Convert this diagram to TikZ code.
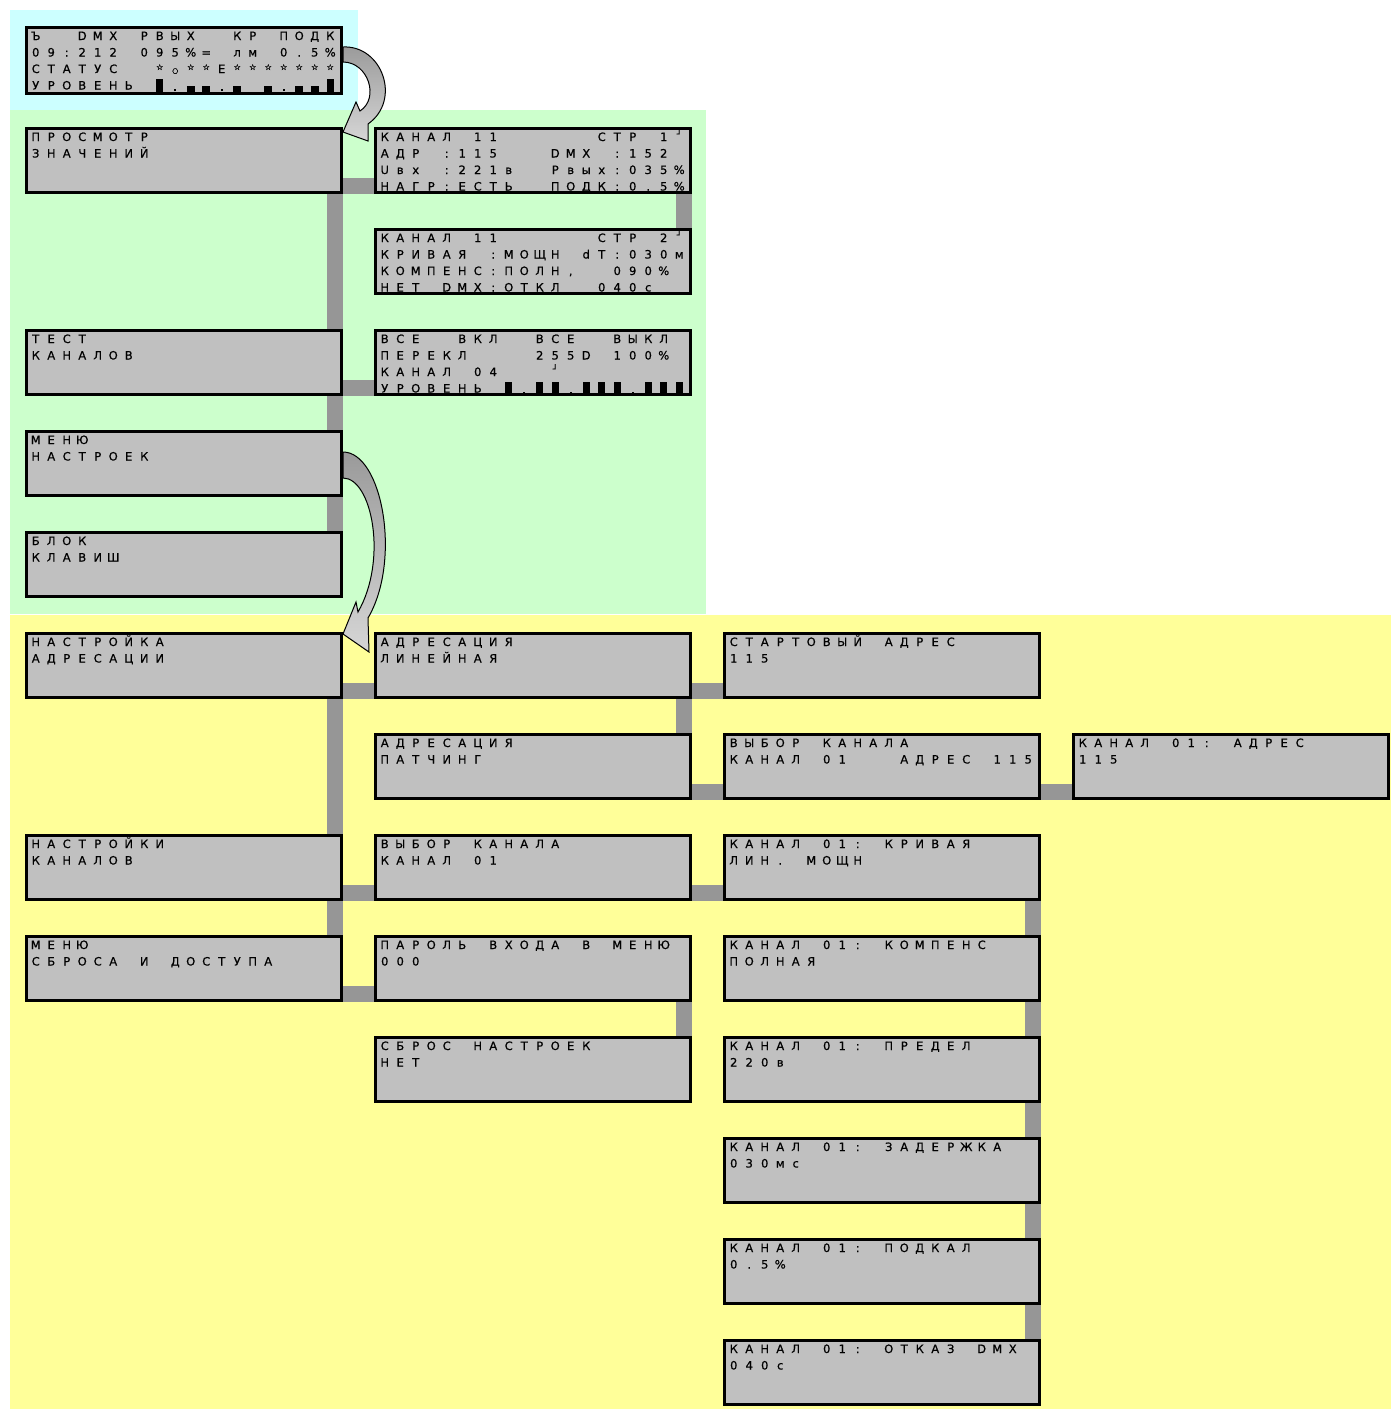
\documentclass[tikz,border=0pt]{standalone}
\usepackage{fontspec}
\usepackage{tikz}
\usetikzlibrary{positioning}
\newfontfamily\lcdfont{DejaVu Sans}[FakeBold=0.6]
\definecolor{mnCyan}  {HTML}{CCFFFF}
\definecolor{mnGreen} {HTML}{CCFFCC}
\definecolor{mnYellow}{HTML}{FFFF99}
\definecolor{mnLcd}   {HTML}{C0C0C0}
\definecolor{mnLink}  {HTML}{969696}
\definecolor{mnArrowA}{HTML}{9A9A9A}
\definecolor{mnArrowB}{HTML}{D6D6D6}
\pgfdeclarelayer{back}
\pgfdeclarelayer{links}
\pgfsetlayers{back,links,main}
\newlength\px \setlength\px{0.5pt}
\makeatletter
\newcommand\lcdcells[1]{\@tfor\lcd@ch:=#1\do{\makebox[15.5\px]{\lcd@ch}}}
\makeatother
\newcommand\lcdrow[1]{\hbox to 315\px{\vrule height 12.5\px depth 0pt width 0pt\relax
  \hspace*{1.5\px}\lcdcells{#1}\hfil}}
\newcommand\lcd[2][64]{\vbox to #1\px{\fontsize{5.75pt}{8.25pt}\lcdfont
  \baselineskip=16.5\px\lineskiplimit=-50pt\relax#2\vfil}}
\newcommand\lcdtwo[2]{\lcd{\lcdrow{#1}\lcdrow{#2}}}
\newcommand\lcdstar{\raisebox{3\px}{\fontsize{4pt}{4pt}\selectfont ☆}}
\newcommand\lcdring{\fontsize{3.6pt}{4pt}\selectfont ○}
\newcommand\lcdcorner{\raisebox{4\px}{\fontsize{4.2pt}{5pt}\selectfont ┘}}
\newcommand\lvT{\rule[-2\px]{7\px}{13\px}}
\newcommand\lvB{\rule[-2\px]{8\px}{5.5\px}}
\newcommand\lvD{\rule[-1.5\px]{2\px}{2\px}}

\begin{document}
\begin{tikzpicture}[x=0.5pt,y=-0.5pt,
    screen/.style={draw=black,line width=3\px,fill=mnLcd,inner sep=0pt},
    link/.style={draw=mnLink,line width=16\px},
    bigarrow/.style={draw=black,line width=1\px,top color=mnArrowA,bottom color=mnArrowB}]
  \useasboundingbox (0,0) rectangle (1391,1409);
  \begin{pgfonlayer}{back}
    \fill[white] (0,0) rectangle (1391,1409);
    \fill[mnCyan] (10,10) rectangle (358,110);
    \fill[mnGreen] (10,110) rectangle (706,614);
    \fill[mnYellow] (10,615) rectangle (1391,1409);
  \end{pgfonlayer}

  \node[screen,anchor=north west] (stat) at (25,26) {\lcd[66]{%
    \lcdrow{Ъ~~DMX~РВЫХ~~КР~ПОДК}
    \lcdrow{09:212~095\%=~лм~0.5\%}
    \lcdrow{СТАТУС~~\lcdstar\lcdring\lcdstar\lcdstar Е\lcdstar\lcdstar\lcdstar\lcdstar\lcdstar\lcdstar\lcdstar}
    \lcdrow{УРОВЕНЬ~\lvT\lvD\lvB\lvB\lvD\lvB~\lvB\lvD\lvB\lvB\lvT}}};

  % view / test / setup menus
  \node[screen,anchor=north west] (prosm) at (25,127) {\lcdtwo{ПРОСМОТР}{ЗНАЧЕНИЙ}};
  \node[screen,right=31\px of prosm] (kan1) {\lcd{%
    \lcdrow{КАНАЛ~11~~~~~~СТР~1\lcdcorner}
    \lcdrow{АДР~:115~~~DMX~:152}
    \lcdrow{Uвх~:221в~~Рвых:035\%}
    \lcdrow{НАГР:ЕСТЬ~~ПОДК:0.5\%}}};
  \node[screen,below=34\px of kan1] (kan2) {\lcd{%
    \lcdrow{КАНАЛ~11~~~~~~СТР~2\lcdcorner}
    \lcdrow{КРИВАЯ~:МОЩН~dT:030м}
    \lcdrow{КОМПЕНС:ПОЛН,~~090\%}
    \lcdrow{НЕТ~DMX:ОТКЛ~~040с}}};
  \node[screen,below=135\px of prosm] (test) {\lcdtwo{ТЕСТ}{КАНАЛОВ}};
  \node[screen,right=31\px of test] (vkl) {\lcd{%
    \lcdrow{ВСЕ~~ВКЛ~~ВСЕ~~ВЫКЛ}
    \lcdrow{ПЕРЕКЛ~~~~255D~100\%}
    \lcdrow{КАНАЛ~04~~~\lcdcorner}
    \lcdrow{УРОВЕНЬ~\lvT\lvD\lvT\lvT\lvD\lvT\lvT\lvT\lvD\lvT\lvT\lvT}}};
  \node[screen,below=34\px of test] (menu) {\lcdtwo{МЕНЮ}{НАСТРОЕК}};
  \node[screen,below=34\px of menu] (blok) {\lcdtwo{БЛОК}{КЛАВИШ}};

  % setup menu
  \node[screen,below=34\px of blok] (naddr) {\lcdtwo{НАСТРОЙКА}{АДРЕСАЦИИ}};
  \node[screen,right=31\px of naddr] (lin) {\lcdtwo{АДРЕСАЦИЯ}{ЛИНЕЙНАЯ}};
  \node[screen,right=31\px of lin] (start) {\lcdtwo{СТАРТОВЫЙ~АДРЕС}{115}};
  \node[screen,below=34\px of lin] (patch) {\lcdtwo{АДРЕСАЦИЯ}{ПАТЧИНГ}};
  \node[screen,below=34\px of start] (vyb3) {\lcdtwo{ВЫБОР~КАНАЛА}{КАНАЛ~01~~~АДРЕС~115}};
  \node[screen,right=31\px of vyb3] (adr4) {\lcdtwo{КАНАЛ~01:~АДРЕС}{115}};
  \node[screen,below=135\px of naddr] (nkan) {\lcdtwo{НАСТРОЙКИ}{КАНАЛОВ}};
  \node[screen,right=31\px of nkan] (vyb2) {\lcdtwo{ВЫБОР~КАНАЛА}{КАНАЛ~01}};
  \node[screen,right=31\px of vyb2] (kriv) {\lcdtwo{КАНАЛ~01:~КРИВАЯ}{ЛИН.~МОЩН}};
  \node[screen,below=34\px of nkan] (msbr) {\lcdtwo{МЕНЮ}{СБРОСА~И~ДОСТУПА}};
  \node[screen,right=31\px of msbr] (parol) {\lcdtwo{ПАРОЛЬ~ВХОДА~В~МЕНЮ}{000}};
  \node[screen,right=31\px of parol] (komp) {\lcdtwo{КАНАЛ~01:~КОМПЕНС}{ПОЛНАЯ}};
  \node[screen,below=34\px of parol] (sbros) {\lcdtwo{СБРОС~НАСТРОЕК}{НЕТ}};
  \node[screen,right=31\px of sbros] (pred) {\lcdtwo{КАНАЛ~01:~ПРЕДЕЛ}{220в}};
  \node[screen,below=34\px of pred] (zad) {\lcdtwo{КАНАЛ~01:~ЗАДЕРЖКА}{030мс}};
  \node[screen,below=34\px of zad] (podk) {\lcdtwo{КАНАЛ~01:~ПОДКАЛ}{0.5\%}};
  \node[screen,below=34\px of podk] (otkaz) {\lcdtwo{КАНАЛ~01:~ОТКАЗ~DMX}{040с}};

  \begin{pgfonlayer}{links}
    \foreach \a/\b in {prosm/blok,kan1/kan2,naddr/msbr,lin/patch,parol/sbros,kriv/otkaz}
      \draw[link] ([xshift=-8\px]\a.south east) -- ([xshift=-8\px]\b.north east);
    \foreach \a/\b in {prosm/kan1,test/vkl,naddr/lin,lin/start,patch/vyb3,vyb3/adr4,
        nkan/vyb2,vyb2/kriv,msbr/parol}
      \draw[link] ([yshift=8.5\px]\a.south east) -- ([yshift=8.5\px]\b.south west);
  \end{pgfonlayer}

  \path[bigarrow] (343,47) .. controls (382,45) and (402,100) .. (368,124)
    -- (368,141) -- (343,132) -- (356,102) -- (360,111)
    .. controls (380,98) and (368,62) .. (343,62) -- cycle;
  \path[bigarrow] (343,452) .. controls (382,452) and (402,560) .. (368,618)
    -- (369,652) -- (343,634) -- (356,602) -- (358,612)
    .. controls (388,560) and (372,478) .. (343,478) -- cycle;
\end{tikzpicture}
\end{document}
